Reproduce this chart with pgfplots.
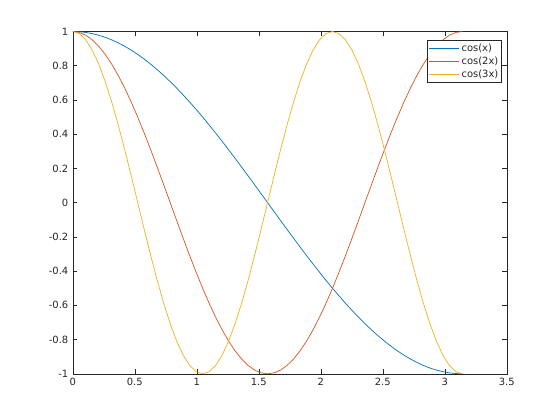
\documentclass[border=0pt]{standalone}
\usepackage{pgfplots}
\pgfplotsset{compat=1.18}
\usepackage{pgfplotstable}
\usepackage{fontspec}
\setmainfont{DejaVu Sans}
\definecolor{c1}{rgb}{0,0.447,0.741}
\definecolor{c2}{rgb}{0.85,0.325,0.098}
\definecolor{c3}{rgb}{0.929,0.694,0.125}
\definecolor{axc}{rgb}{0.15,0.15,0.15}
\pgfplotstableread{
x c1 c2 c3
0 1 1 1
0.05236 0.99863 0.99452 0.98769
0.10472 0.99452 0.97815 0.95106
0.15708 0.98769 0.95106 0.89101
0.20944 0.97815 0.91355 0.80902
0.26180 0.96593 0.86603 0.70711
0.31416 0.95106 0.80902 0.58779
0.36652 0.93358 0.74314 0.45399
0.41888 0.91355 0.66913 0.30902
0.47124 0.89101 0.58779 0.15643
0.52360 0.86603 0.5 0
0.57596 0.83867 0.40674 -0.15643
0.62832 0.80902 0.30902 -0.30902
0.68068 0.77715 0.20791 -0.45399
0.73304 0.74314 0.10453 -0.58779
0.78540 0.70711 0 -0.70711
0.83776 0.66913 -0.10453 -0.80902
0.89012 0.62932 -0.20791 -0.89101
0.94248 0.58779 -0.30902 -0.95106
0.99484 0.54464 -0.40674 -0.98769
1.04720 0.5 -0.5 -1
1.09956 0.45399 -0.58779 -0.98769
1.15192 0.40674 -0.66913 -0.95106
1.20428 0.35837 -0.74314 -0.89101
1.25664 0.30902 -0.80902 -0.80902
1.30900 0.25882 -0.86603 -0.70711
1.36136 0.20791 -0.91355 -0.58779
1.41372 0.15643 -0.95106 -0.45399
1.46608 0.10453 -0.97815 -0.30902
1.51844 0.05234 -0.99452 -0.15643
1.57080 0 -1 0
1.62316 -0.05234 -0.99452 0.15643
1.67552 -0.10453 -0.97815 0.30902
1.72788 -0.15643 -0.95106 0.45399
1.78024 -0.20791 -0.91355 0.58779
1.83260 -0.25882 -0.86603 0.70711
1.88496 -0.30902 -0.80902 0.80902
1.93732 -0.35837 -0.74314 0.89101
1.98968 -0.40674 -0.66913 0.95106
2.04204 -0.45399 -0.58779 0.98769
2.09440 -0.5 -0.5 1
2.14675 -0.54464 -0.40674 0.98769
2.19911 -0.58779 -0.30902 0.95106
2.25147 -0.62932 -0.20791 0.89101
2.30383 -0.66913 -0.10453 0.80902
2.35619 -0.70711 0 0.70711
2.40855 -0.74314 0.10453 0.58779
2.46091 -0.77715 0.20791 0.45399
2.51327 -0.80902 0.30902 0.30902
2.56563 -0.83867 0.40674 0.15643
2.61799 -0.86603 0.5 0
2.67035 -0.89101 0.58779 -0.15643
2.72271 -0.91355 0.66913 -0.30902
2.77507 -0.93358 0.74314 -0.45399
2.82743 -0.95106 0.80902 -0.58779
2.87979 -0.96593 0.86603 -0.70711
2.93215 -0.97815 0.91355 -0.80902
2.98451 -0.98769 0.95106 -0.89101
3.03687 -0.99452 0.97815 -0.95106
3.08923 -0.99863 0.99452 -0.98769
3.14159 -1 1 -1
}\datatable
\begin{document}
\begin{tikzpicture}
\begin{axis}[
  scale only axis,
  width=434bp, height=342.3bp,
  at={(0,0)}, anchor=south west,
  xmin=0, xmax=3.5, ymin=-1, ymax=1,
  xtick={0,0.5,...,3.5},
  ytick={-1,-0.8,-0.6,-0.4,-0.2,0,0.2,0.4,0.6,0.8,1},
  tick align=inside,
  major tick length=4.5bp,
  axis line style={axc, line width=0.6bp},
  every tick/.style={axc, line width=0.6bp},
  tick label style={text=axc, font=\fontsize{10}{12}\selectfont},
  /pgf/number format/assume math mode=true,
  /pgf/number format/.cd, fixed,
  /pgfplots/.cd,
  xticklabel style={yshift=-1bp},
  yticklabel style={xshift=-1bp},
  clip=true,
  legend style={at={(1,1)}, anchor=north east, xshift=-5bp, yshift=-8.5bp,
    draw=axc, line width=0.6bp, font=\fontsize{10}{11}\selectfont,
    inner sep=1.2bp, row sep=0bp, text=axc},
  legend cell align=left,
  legend image code/.code={\draw[#1] (0bp,0bp) -- (30bp,0bp);},
]
\addplot[c1, line width=0.7bp] table[x=x, y=c1] {\datatable};
\addlegendentry{cos(x)}
\addplot[c2, line width=0.7bp] table[x=x, y=c2] {\datatable};
\addlegendentry{cos(2x)}
\addplot[c3, line width=0.7bp] table[x=x, y=c3] {\datatable};
\addlegendentry{cos(3x)}
\end{axis}
\path[use as bounding box] (-72.8bp,-46.2bp) rectangle (487.2bp,373.8bp);
\end{tikzpicture}
\end{document}
